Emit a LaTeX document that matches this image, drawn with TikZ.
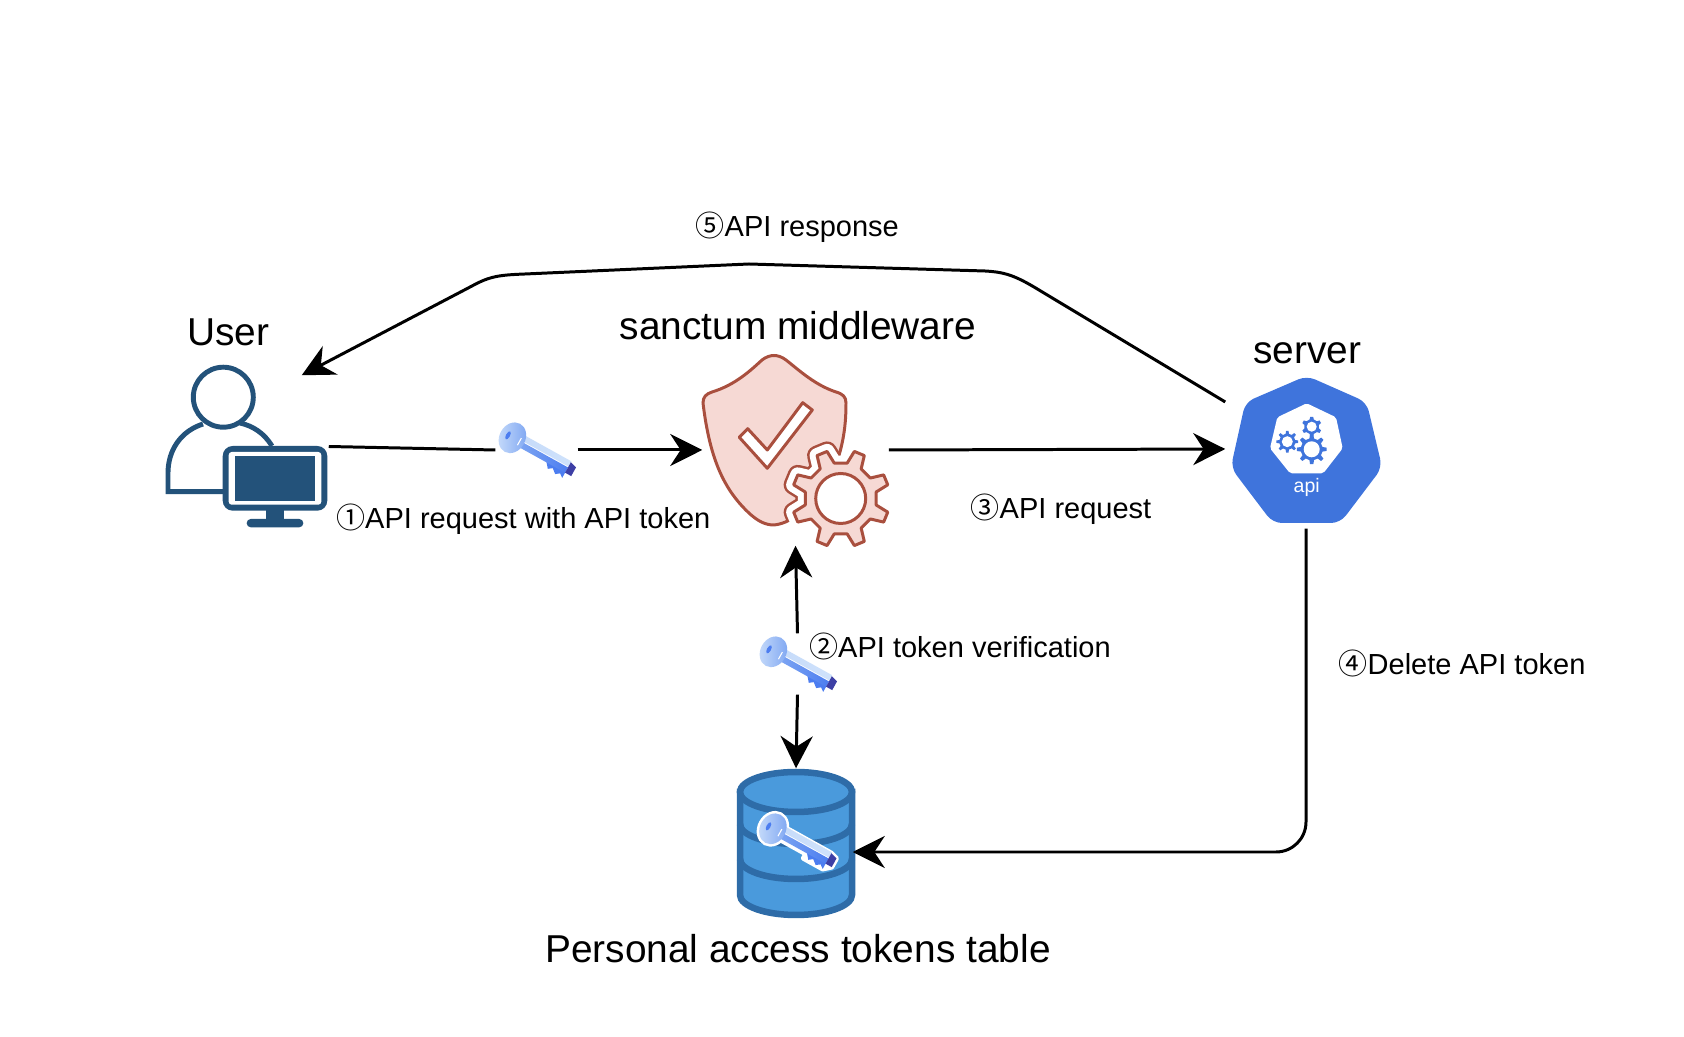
\documentclass[tikz,border=0pt]{standalone}
\usepackage{fontspec}
\setmainfont{Liberation Sans}
\newfontfamily\cjk{Noto Sans CJK SC}
\usetikzlibrary{arrows.meta}
\definecolor{usercol}{HTML}{23527A}
\definecolor{shieldline}{HTML}{A94F3E}
\definecolor{shieldfill}{HTML}{F6D9D4}
\definecolor{apicol}{HTML}{3F74DC}
\definecolor{dbfill}{HTML}{4A9ADC}
\definecolor{dbline}{HTML}{2E6CA8}
\definecolor{keylight}{HTML}{C6DBFA}
\definecolor{keymid}{HTML}{7EA6F2}
\definecolor{keypale}{HTML}{CFE2FB}
\definecolor{keyblue}{HTML}{4C7DF0}
\definecolor{keydark}{HTML}{3D3FA5}
\newcommand{\gearpath}[4]{({#4+0.73*360/#3}:#2) \foreach \k in {1,...,#3} {-- ({#4+(\k-0.27)*360/#3}:#2) -- ({#4+(\k-0.14)*360/#3}:#1) -- ({#4+(\k+0.14)*360/#3}:#1) -- ({#4+(\k+0.27)*360/#3}:#2)} -- cycle}
\newcommand{\shieldpath}{(703,403) .. controls (703,397) and (706,394) .. (712,392) .. controls (735,385) and (750,371) .. (762,360) .. controls (770,354) and (778,354) .. (786,360) .. controls (800,371) and (815,385) .. (836,392) .. controls (843,394) and (846,397) .. (846,403) .. controls (846,431) and (842,451) .. (830,481) .. controls (815,501) and (795,523) .. (774,525) .. controls (765,525) and (758,521) .. (750,514) .. controls (725,491) and (710,461) .. (703,403) -- cycle}
\tikzset{
  conn/.style={line width=0.85pt,-{Stealth[length=0.32cm,width=0.32cm]}},
  plainconn/.style={line width=0.85pt},
  bigtext/.style={font=\fontsize{11.05}{13}\selectfont,anchor=base,inner sep=0pt},
  smalltext/.style={font=\fontsize{8.25}{10}\selectfont,anchor=base west,inner sep=0pt},
  spot/.style={inner sep=0pt,minimum width=#1},
  keyicon/.pic={
    \begin{scope}[rotate=-29,line join=round]
      \path[draw=white,line width=0.05cm,fill=white] (-27,1) ellipse (13 and 16);
      \path[draw=white,line width=0.05cm,fill=white] (-18,-6) -- (36,-6) -- (43,-4) -- (43,6) -- (36,12) -- (14,12) -- (14,7) -- (-18,7) -- cycle;
      \fill[keyblue] (14,5) -- (19,11) -- (23,8) -- (28,12) -- (32,9) -- (36,12) -- (36,5) -- cycle;
      \shade[left color=keylight,right color=keypale] (-18,-7) -- (36,-7) -- (36,-1) -- (-18,-1) -- cycle;
      \shade[left color=keymid,right color=keyblue] (-18,0) -- (36,0) -- (36,6) -- (-18,6) -- cycle;
      \fill[keydark] (36,-6) -- (43,-4) -- (43,6) -- (36,6) -- cycle;
      \shade[left color=keylight,right color=keymid] (-27,1) ellipse (13 and 16);
      \fill[keyblue] (-32,1) ellipse (2 and 4.5);
      \draw[white,line width=0.3pt] (-19,-3) -- (-19,5);
    \end{scope}
  }
}
\begin{document}
\begin{tikzpicture}[x=0.01cm,y=-0.01cm]
\useasboundingbox (0,0) rectangle (1684,1037);
\node[spot=1.61cm,minimum height=1.63cm] (user) at (247.5,446.5) {};
\node[spot=1.85cm,minimum height=1.9cm] (shield) at (795.5,450) {};
\node[spot=1.6cm,minimum height=1.58cm] (server) at (1306,449) {};
\node[spot=1.18cm,minimum height=1.48cm] (db) at (796,843) {};
\node[spot=0.81cm,minimum height=0.6cm] (keya) at (536.5,450) {};
\node[spot=0.84cm,minimum height=0.6cm] (keyb) at (797.5,664) {};

\draw[usercol,line width=1.4pt] (223.3,397.2) circle (30);
\draw[usercol,line width=1.4pt] (272,446) .. controls (264,433) and (253,426) .. (240,423);
\draw[usercol,line width=1.4pt] (203,424) .. controls (181,431) and (168,450) .. (168,473) -- (168,491.7) -- (224,491.7);
\fill[usercol,rounded corners=0.1cm] (222.7,446) rectangle (327.3,510.7);
\fill[white,rounded corners=0.03cm] (228.7,452) rectangle (321.3,504.7);
\fill[usercol] (234.7,456) rectangle (315,501);
\fill[usercol] (266,510) rectangle (284,520);
\fill[usercol,rounded corners=0.04cm] (246.7,519) rectangle (303.3,527.3);

\draw[shieldline,line width=0.85pt,fill=shieldfill] \shieldpath;
\draw[shieldline,line width=0.85pt,fill=white,line join=round] (802.7,402.7) -- (812.3,410) -- (767.3,468.3) -- (739.3,437.3) -- (747.7,428.7) -- (767.3,450) -- cycle;
\begin{scope}
\clip \shieldpath;
\draw[shieldline,line width=0.2cm,line join=round,shift={(840.7,498.5)}] \gearpath{49}{36}{8}{22.5};
\end{scope}
\draw[white,line width=0.15cm,line join=round,shift={(840.7,498.5)}] \gearpath{49}{36}{8}{22.5};
\draw[shieldline,line width=0.85pt,fill=shieldfill,line join=round,shift={(840.7,498.5)}] \gearpath{49}{36}{8}{22.5};
\draw[shieldline,line width=0.85pt,fill=white] (840.7,498.5) circle (25);

\fill[apicol,draw=apicol,line width=0.05cm,line join=round,rounded corners=0.08cm] (1306.7,378.5) -- (1364.5,404) -- (1379.5,467) -- (1339,520.5) -- (1274,520.5) -- (1233.5,467) -- (1247.5,404) -- cycle;
\fill[white,rounded corners=0.02cm] (1306.7,403.3) -- (1336,417.3) -- (1342.7,448.3) -- (1323.3,473.3) -- (1290,473.3) -- (1270,448.3) -- (1277.3,417.3) -- cycle;
\fill[apicol,shift={(1311.7,449.3)}] \gearpath{15}{11}{8}{0};
\fill[white] (1311.7,449.3) circle (8);
\fill[apicol,shift={(1287.3,441.7)}] \gearpath{11}{8}{8}{0};
\fill[white] (1287.3,441.7) circle (5.5);
\fill[apicol,shift={(1311.7,426.7)}] \gearpath{10}{7.5}{6}{30};
\fill[white] (1311.7,426.7) circle (5);
\node[white,font=\fontsize{5.55}{7}\selectfont,inner sep=0pt] (apilabel) at (1306.7,487.5) {api};

\fill[dbfill,draw=dbline,line width=0.065cm] (740,792) -- (740,895) arc (180:0:56 and 20) -- (852,792) -- cycle;
\draw[dbline,line width=0.065cm] (740,824) arc (180:0:56 and 20);
\draw[dbline,line width=0.065cm] (740,859) arc (180:0:56 and 20);
\draw[dbline,line width=0.065cm,fill=dbfill] (796,792) ellipse (56 and 20);

\pic at (keya) {keyicon};
\pic at (keyb) {keyicon};
\pic at (797,841) {keyicon};

\draw[plainconn] (user.east) -- (keya.west);
\draw[conn] (keya.east) -- (shield.west);
\draw[conn] (shield.east) -- (server.west);
\draw[conn] (keyb.north) -- (shield.south);
\draw[conn] (keyb.south) -- (db.north);
\draw[conn,rounded corners=0.3cm] (server.south) |- ([shift={(-0.03cm,-0.09cm)}]db.east);
\draw[conn] ([yshift=0.47cm]server.west) -- (1034,287) .. controls (1012,274) and (1002,272) .. (985,271) -- (749,264) -- (525,274) .. controls (500,275) and (490,276) .. (472,286) -- ([shift={(-0.27cm,-0.11cm)}]user.north east);

\node[bigtext] (usertext) at (228.5,346) {User};
\node[bigtext] (shieldtext) at (798,340) {sanctum middleware};
\node[bigtext] (servertext) at (1307,363.5) {server};
\node[bigtext] (dbtext) at (798,962.5) {Personal access tokens table};
\node[smalltext] (stepa) at (335.5,529) {{\cjk ①}API request with API token};
\node[smalltext] (stepb) at (808.5,658) {{\cjk ②}API token verification};
\node[smalltext] (stepc) at (970,519) {{\cjk ③}API request};
\node[smalltext] (stepd) at (1338,675) {{\cjk ④}Delete API token};
\node[smalltext] (stepe) at (695,236.5) {{\cjk ⑤}API response};
\end{tikzpicture}
\end{document}
